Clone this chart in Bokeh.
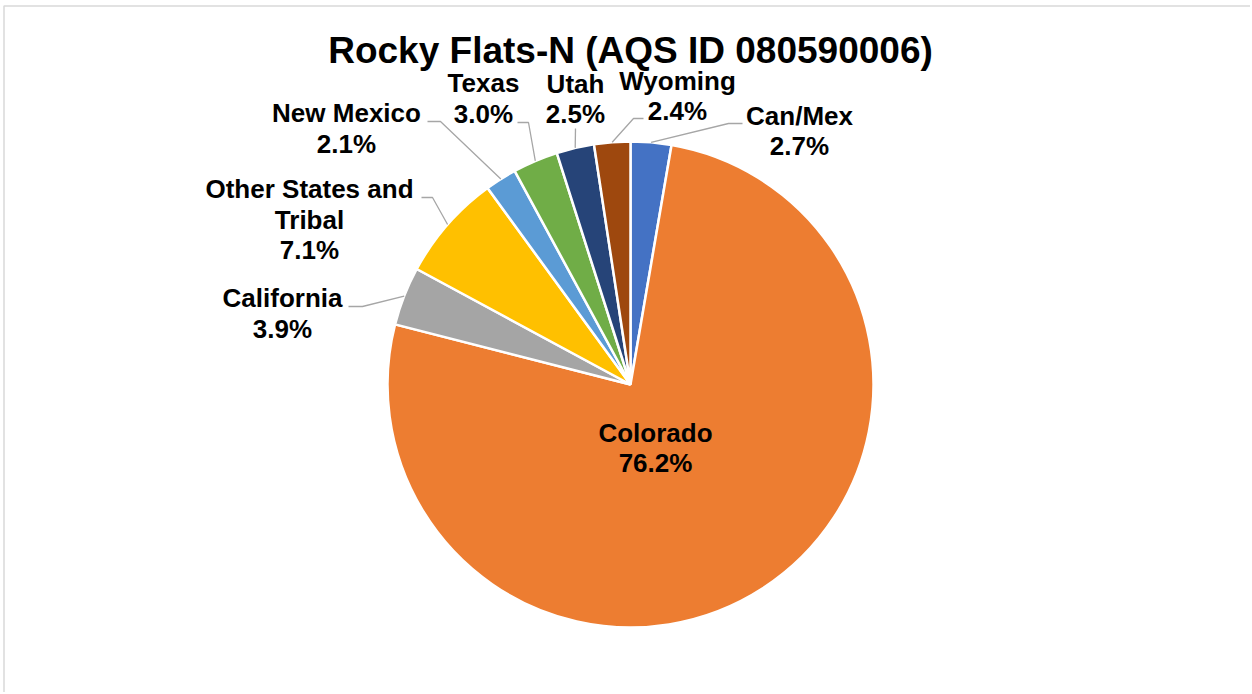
import math
from bokeh.plotting import figure
from bokeh.models import Range1d
from bokeh.embed import file_html
from bokeh.resources import INLINE
from bokeh.core.properties import value

# ---- data ----
categories = ["Can/Mex", "Colorado", "California", "Other States and Tribal",
              "New Mexico", "Texas", "Utah", "Wyoming"]
shares = [2.7, 76.2, 3.9, 7.1, 2.1, 3.0, 2.5, 2.4]
colors = ["#4472C4", "#ED7D31", "#A5A5A5", "#FFC000",
          "#5B9BD5", "#70AD47", "#264478", "#9E480E"]
label_lines = [["Can/Mex"], ["Colorado"], ["California"], ["Other States and", "Tribal"],
               ["New Mexico"], ["Texas"], ["Utah"], ["Wyoming"]]
title_text = "Rocky Flats-N (AQS ID 080590006)"

# ---- layout (page pixel coordinates, y measured from top) ----
W, H = 1250, 692
OFF = 0
CX, CY, R = 630, 384, 243
LINE_GAP = 30.5
# label anchor (center x, first line center y)
label_pos = [(799, 115), (655, 432), (282, 297.5), (309, 188.5),
             (346, 112.5), (483, 82.5), (575, 83), (677, 80)]
# leader line elbows/ends (None = no leader)
leader_pts = [[(728, 123), (742, 123)], None, [(362, 306), (348, 306)],
              [(432, 197), (421, 197)], [(440, 121), (427, 121)],
              [(528, 122), (517, 122)], [(575, 128)], [(633, 118), (643, 118)]]


def fy(ry):
    return 694 - ry


p = figure(width=W, height=H, output_backend="svg", toolbar_location=None,
           x_range=Range1d(OFF, OFF + W), y_range=Range1d(694 - OFF - H, 694 - OFF),
           min_border=0, outline_line_color=None, background_fill_color="white",
           border_fill_color="white")
p.axis.visible = False
p.grid.visible = False

# chart frame (left and top edges visible)
p.line(x=[3.5, 3.5, OFF + W], y=[fy(OFF + H), fy(5.5), fy(5.5)],
       line_color="#D9D9D9", line_width=1.5)

total = sum(shares)
starts, ends, mids = [], [], []
cum = 0.0
for v in shares:
    a0 = math.pi / 2 - 2 * math.pi * cum / total
    cum += v
    a1 = math.pi / 2 - 2 * math.pi * cum / total
    starts.append(a0)
    ends.append(a1)
    mids.append((a0 + a1) / 2)

p.wedge(x=CX, y=fy(CY), radius=R, start_angle=starts, end_angle=ends,
        direction="clock", fill_color=colors, line_color="white", line_width=2.5)

# leader lines
for i, pts in enumerate(leader_pts):
    if pts is None:
        continue
    sx = CX + R * math.cos(mids[i])
    sy = CY - R * math.sin(mids[i])
    xs = [sx] + [q[0] for q in pts]
    ys = [fy(sy)] + [fy(q[1]) for q in pts]
    p.line(x=xs, y=ys, line_color="#A6A6A6", line_width=1.3)

# labels
tx, ty, tt = [], [], []
for i, lines in enumerate(label_lines):
    lx, ly = label_pos[i]
    allines = lines + [f"{shares[i]:.1f}%"]
    for k, s in enumerate(allines):
        tx.append(lx)
        ty.append(fy(ly + k * LINE_GAP))
        tt.append(s)
p.text(x=tx, y=ty, text=tt, text_font=value("Liberation Sans"), text_font_style="bold",
       text_font_size="26px", text_color="black", text_align="center", text_baseline="middle")

p.text(x=[630], y=[fy(50)], text=[title_text], text_font=value("Liberation Sans"),
       text_font_style="bold", text_font_size="37px", text_color="black",
       text_align="center", text_baseline="middle")

open("out.html", "w").write(file_html(p, INLINE))
